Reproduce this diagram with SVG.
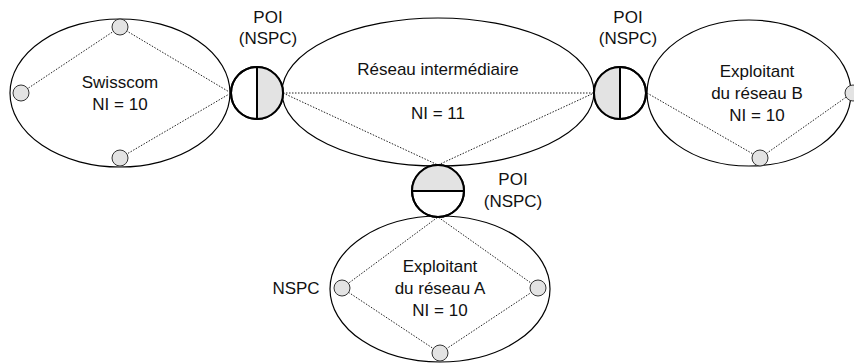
<svg xmlns="http://www.w3.org/2000/svg" width="854" height="363" viewBox="0 0 854 363">
  <style>
    .net { fill: none; stroke: #000; stroke-width: 1.2; }
    .poi { fill: #fff; stroke: #000; stroke-width: 2; }
    .half { fill: #e3e3e3; stroke: none; }
    .split { stroke: #000; stroke-width: 2; }
    .node { fill: #e3e3e3; stroke: #333; stroke-width: 1; }
    .link { stroke: #222; stroke-width: 1; stroke-dasharray: 1.5 1.5; fill: none; }
    text { font-family: "Liberation Sans", Arial, sans-serif; font-size: 17px; fill: #111; text-anchor: middle; }
  </style>
  <rect width="854" height="363" fill="#fff"/>

  <!-- network areas -->
  <g id="swisscom">
    <ellipse class="net" cx="120" cy="93" rx="110" ry="74"/>
    <text x="120" y="88">Swisscom</text>
    <text x="120" y="110">NI = 10</text>
  </g>
  <g id="transit">
    <ellipse class="net" cx="438" cy="92" rx="156" ry="74"/>
    <text x="438" y="75">Réseau intermédiaire</text>
    <text x="438" y="119">NI = 11</text>
  </g>
  <g id="operator-b">
    <ellipse class="net" cx="749" cy="93" rx="102" ry="73"/>
    <text x="757" y="77">Exploitant</text>
    <text x="757" y="99">du réseau B</text>
    <text x="757" y="121">NI = 10</text>
  </g>
  <g id="operator-a">
    <ellipse class="net" cx="440" cy="289" rx="110" ry="73"/>
    <text x="440" y="272">Exploitant</text>
    <text x="440" y="294">du réseau A</text>
    <text x="440" y="316">NI = 10</text>
  </g>

  <!-- dotted links -->
  <g id="links">
    <polyline class="link" points="21,93 120,27 231,93 120,158"/>
    <line class="link" x1="283" y1="93" x2="594" y2="93"/>
    <polyline class="link" points="283,93 438,165 594,93"/>
    <polyline class="link" points="647,93 760,158 852,93"/>
    <polyline class="link" points="342,288 438,217 538,288 440,353 342,288"/>
  </g>

  <!-- switching nodes -->
  <g id="nodes-swisscom">
    <circle class="node" cx="120" cy="27" r="8"/>
    <circle class="node" cx="21" cy="93" r="8"/>
    <circle class="node" cx="120" cy="158" r="8"/>
  </g>
  <g id="nodes-b">
    <circle class="node" cx="760" cy="158" r="8"/>
    <circle class="node" cx="853" cy="93" r="8"/>
  </g>
  <g id="nodes-a">
    <circle class="node" cx="342" cy="288" r="8"/>
    <circle class="node" cx="538" cy="288" r="8"/>
    <circle class="node" cx="440" cy="353" r="8"/>
    <text x="296" y="294">NSPC</text>
  </g>

  <!-- points of interconnection -->
  <g id="poi-1">
    <circle class="poi" cx="257" cy="93" r="26"/>
    <path class="half" d="M257,67 A26,26 0 0 1 257,119 Z"/>
    <circle cx="257" cy="93" r="26" fill="none" stroke="#000" stroke-width="2"/>
    <line class="split" x1="257" y1="67" x2="257" y2="119"/>
    <text x="268" y="23">POI</text>
    <text x="268" y="44">(NSPC)</text>
  </g>
  <g id="poi-2">
    <circle class="poi" cx="620" cy="93" r="26"/>
    <path class="half" d="M620,67 A26,26 0 0 0 620,119 Z"/>
    <circle cx="620" cy="93" r="26" fill="none" stroke="#000" stroke-width="2"/>
    <line class="split" x1="620" y1="67" x2="620" y2="119"/>
    <text x="628" y="23">POI</text>
    <text x="628" y="44">(NSPC)</text>
  </g>
  <g id="poi-3">
    <circle class="poi" cx="438" cy="191" r="26"/>
    <path class="half" d="M412,191 A26,26 0 0 1 464,191 Z"/>
    <circle cx="438" cy="191" r="26" fill="none" stroke="#000" stroke-width="2"/>
    <line class="split" x1="412" y1="191" x2="464" y2="191"/>
    <text x="513" y="185">POI</text>
    <text x="513" y="207">(NSPC)</text>
  </g>
</svg>
